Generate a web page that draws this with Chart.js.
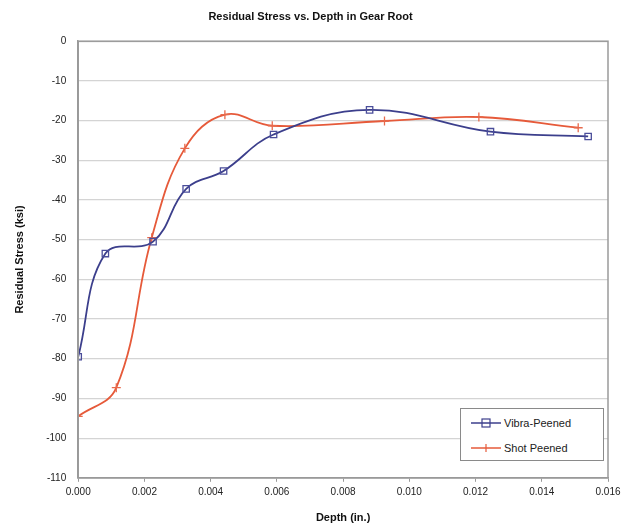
<!DOCTYPE html>
<html>
<head>
<meta charset="utf-8">
<script src="https://cdn.jsdelivr.net/npm/chart.js@4/dist/chart.umd.min.js"></script>
<style>
  html, body { margin: 0; padding: 0; background: #fff; }
  #wrap { position: relative; width: 633px; height: 529px; }
  #legend {
    position: absolute; left: 460px; top: 408px; width: 144px; height: 53px;
    border: 1px solid #8a8a8a; background: #fff; box-sizing: border-box;
    font: 11px "Liberation Sans", Arial, sans-serif; color: #222;
  }
  .row { display: flex; align-items: center; height: 22px; margin-top: 3px; }
  .row svg { margin-left: 10px; margin-right: 3px; }
</style>
</head>
<body>
<div id="wrap">
  <canvas id="c" width="633" height="529"></canvas>
  <div id="legend">
    <div class="row">
      <svg width="30" height="12"><line x1="0" y1="6" x2="30" y2="6" stroke="#3c3f8c" stroke-width="1.5"/><rect x="11" y="2" width="8" height="8" fill="none" stroke="#3c3f8c" stroke-width="1.2"/></svg>
      <span>Vibra-Peened</span>
    </div>
    <div class="row">
      <svg width="30" height="12"><line x1="0" y1="6" x2="30" y2="6" stroke="#e65a3a" stroke-width="1.5"/><line x1="15" y1="2" x2="15" y2="10" stroke="#e65a3a" stroke-width="1.2"/></svg>
      <span>Shot Peened</span>
    </div>
  </div>
</div>
<script>
const vibraDepth  = [0.0000, 0.00082, 0.00226, 0.00326, 0.00439, 0.00590, 0.00880, 0.01245, 0.01540];
const vibraStress = [-79.5, -53.5, -50.5, -37.2, -32.7, -23.5, -17.3, -22.8, -24.0];
const shotDepth   = [0.0000, 0.00115, 0.00222, 0.00322, 0.00443, 0.00586, 0.00925, 0.01210, 0.01510];
const shotStress  = [-94.5, -87.3, -49.5, -27.0, -18.5, -21.3, -20.1, -19.1, -21.8];

const yMin = -110, yMax = 0, yStep = 10;
const xMin = 0, xMax = 0.016, xStep = 0.002;

const FONT = '"Liberation Sans", Arial, sans-serif';

const toPoints = (xs, ys) => xs.map((x, i) => ({ x, y: ys[i] }));

// grey frame round the plot area, like the original
const frame = {
  id: 'frame',
  afterDraw(chart) {
    const a = chart.chartArea, ctx = chart.ctx;
    ctx.save();
    ctx.strokeStyle = '#9a9a9a';
    ctx.lineWidth = 1.5;
    ctx.strokeRect(a.left, a.top, a.right - a.left, a.bottom - a.top);
    ctx.restore();
  }
};

new Chart(document.getElementById('c'), {
  type: 'line',
  data: {
    datasets: [
      {
        label: 'Vibra-Peened',
        data: toPoints(vibraDepth, vibraStress),
        borderColor: '#3c3f8c',
        borderWidth: 1.8,
        tension: 0.4,
        pointStyle: 'rect',
        pointRadius: 4.5,
        pointBorderWidth: 1.3,
        pointBackgroundColor: 'rgba(0,0,0,0)',
        pointBorderColor: '#4a4d9a'
      },
      {
        label: 'Shot Peened',
        data: toPoints(shotDepth, shotStress),
        borderColor: '#e65a3a',
        borderWidth: 1.8,
        tension: 0.4,
        pointStyle: 'cross',
        pointRadius: 4.5,
        pointBorderWidth: 1.3,
        pointBorderColor: '#e86a4c'
      }
    ]
  },
  options: {
    responsive: false,
    animation: false,
    layout: { padding: { left: 13, right: 25, top: 6, bottom: 4 } },
    plugins: {
      legend: { display: false },
      tooltip: { enabled: false },
      title: {
        display: true,
        text: 'Residual Stress vs. Depth in Gear Root',
        color: '#111',
        font: { family: FONT, size: 11, weight: 'bold' },
        padding: { top: 4, bottom: 18 }
      }
    },
    scales: {
      x: {
        type: 'linear',
        min: xMin, max: xMax,
        ticks: {
          stepSize: xStep,
          color: '#222',
          font: { family: FONT, size: 10 },
          padding: 4,
          callback: v => v.toFixed(3)
        },
        grid: { display: true, drawOnChartArea: false, drawTicks: true, tickLength: 4, color: '#9a9a9a' },
        border: { display: true, color: '#9a9a9a', width: 1.5 },
        title: {
          display: true, text: 'Depth (in.)', color: '#111',
          font: { family: FONT, size: 11, weight: 'bold' },
          padding: { top: 10, bottom: 0 }
        }
      },
      y: {
        min: yMin, max: yMax,
        ticks: {
          stepSize: yStep,
          color: '#222',
          font: { family: FONT, size: 10 },
          padding: 12
        },
        grid: { color: '#d4d4d4', lineWidth: 1.2, drawTicks: false },
        border: { display: true, color: '#9a9a9a', width: 1.5 },
        title: {
          display: true, text: 'Residual Stress (ksi)', color: '#111',
          font: { family: FONT, size: 11, weight: 'bold' },
          padding: { top: 0, bottom: 8 }
        }
      }
    }
  },
  plugins: [frame]
});
</script>
</body>
</html>
